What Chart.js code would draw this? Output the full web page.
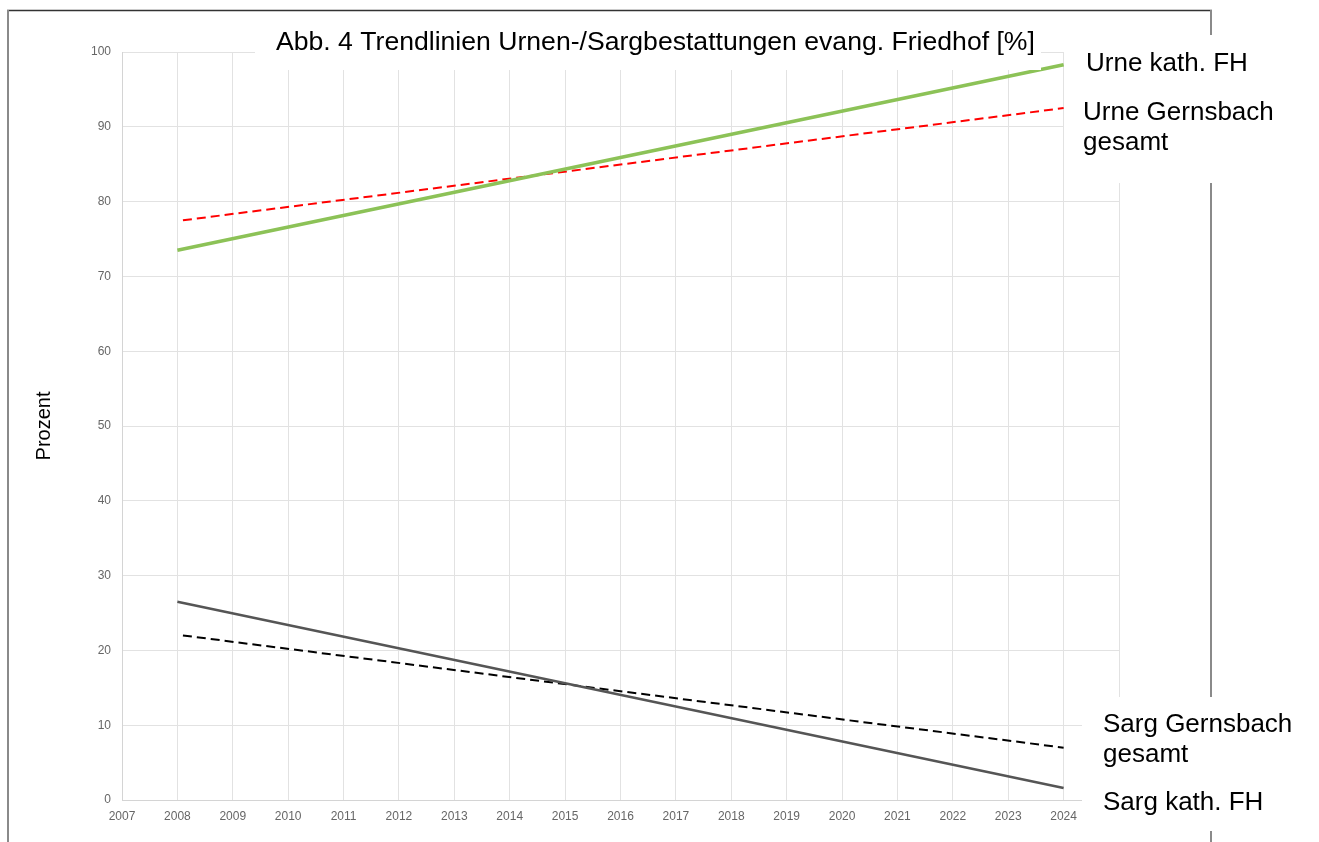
<!DOCTYPE html>
<html>
<head>
<meta charset="utf-8">
<title>Trendlinien Urnen-/Sargbestattungen</title>
<script src="https://cdn.jsdelivr.net/npm/chart.js@4.4.1/dist/chart.umd.min.js"></script>
<style>
  html, body { margin: 0; padding: 0; background: #fff; }
  #chart { display: block; }
</style>
</head>
<body>
<canvas id="chart" width="1319" height="842"></canvas>
<script>
// trend line end points
const kathYears = [2008, 2024];
const gesamtYears = [2008.1, 2024];
const urneKath = [73.5, 98.3];
const urneGesamt = [77.5, 92.5];
const sargKath = [26.5, 1.6];
const sargGesamt = [22.0, 7.0];

const titleText = "Abb. 4 Trendlinien Urnen-/Sargbestattungen evang. Friedhof [%]";
const yTitle = "Prozent";
const FONT = "'Liberation Sans', Arial, sans-serif";

const toPoints = (xs, ys) => xs.map((x, i) => ({ x: x, y: ys[i] }));

// frame, white label boxes and texts, like the pasted-together original
const overlay = {
    id: "overlay",
    afterDraw(chart) {
        const ctx = chart.ctx;
        ctx.save();
        // frame
        ctx.strokeStyle = "#333";
        ctx.lineWidth = 1.5;
        ctx.beginPath();
        ctx.moveTo(7, 10.5);
        ctx.lineTo(1212, 10.5);
        ctx.stroke();
        ctx.strokeStyle = "#8a8a8a";
        ctx.lineWidth = 2;
        ctx.beginPath();
        ctx.moveTo(8, 10);
        ctx.lineTo(8, 842);
        ctx.moveTo(1211, 10);
        ctx.lineTo(1211, 842);
        ctx.stroke();

        // white boxes
        ctx.fillStyle = "#fff";
        ctx.fillRect(255, 14, 786, 56);     // title
        ctx.fillRect(1064, 35, 255, 148);   // Urne labels
        ctx.fillRect(1082, 697, 237, 134);  // Sarg labels

        ctx.fillStyle = "#000";
        ctx.textBaseline = "alphabetic";
        ctx.textAlign = "left";
        ctx.font = "26.6px " + FONT;
        ctx.fillText(titleText, 276, 50);
        ctx.font = "26px " + FONT;
        ctx.fillText("Urne kath. FH", 1086, 71);
        ctx.fillText("Urne Gernsbach", 1083, 120);
        ctx.fillText("gesamt", 1083, 150);
        ctx.fillText("Sarg Gernsbach", 1103, 732);
        ctx.fillText("gesamt", 1103, 762);
        ctx.fillText("Sarg kath. FH", 1103, 810);
        ctx.restore();
    }
};

const ctx = document.getElementById("chart").getContext("2d");
const myChart = new Chart(ctx, {
    type: "scatter",
    data: {
        datasets: [
            {
                label: "Urne kath. FH",
                data: toPoints(kathYears, urneKath),
                showLine: true,
                borderColor: "#8cc257",
                borderWidth: 3.5,
                pointRadius: 0
            },
            {
                label: "Urne Gernsbach gesamt",
                data: toPoints(gesamtYears, urneGesamt),
                showLine: true,
                borderColor: "#ff0000",
                borderWidth: 2,
                borderDash: [9, 5],
                pointRadius: 0
            },
            {
                label: "Sarg kath. FH",
                data: toPoints(kathYears, sargKath),
                showLine: true,
                borderColor: "#555555",
                borderWidth: 2.5,
                pointRadius: 0
            },
            {
                label: "Sarg Gernsbach gesamt",
                data: toPoints(gesamtYears, sargGesamt),
                showLine: true,
                borderColor: "#000000",
                borderWidth: 2,
                borderDash: [9, 5],
                pointRadius: 0
            }
        ]
    },
    options: {
        responsive: false,
        animation: false,
        layout: { padding: { top: 52, right: 200, bottom: 0, left: 0 } },
        plugins: {
            legend: { display: false },
            title: { display: false },
            tooltip: { enabled: false }
        },
        scales: {
            x: {
                type: "linear",
                min: 2007,
                max: 2025,
                afterFit: (scale) => { scale.height = 42; },
                grid: { color: "#e2e2e2", drawTicks: false },
                border: { color: "#d4d4d4" },
                ticks: {
                    stepSize: 1,
                    padding: 9,
                    color: "#666",
                    font: { family: FONT, size: 12 },
                    callback: (v) => String(v)
                }
            },
            y: {
                min: 0,
                max: 100,
                afterFit: (scale) => { scale.width = 122; },
                grid: { color: "#e2e2e2", drawTicks: false },
                border: { color: "#d4d4d4" },
                ticks: {
                    stepSize: 10,
                    padding: 11,
                    color: "#666",
                    font: { family: FONT, size: 12 }
                },
                title: {
                    display: true,
                    text: yTitle,
                    color: "#000",
                    font: { family: FONT, size: 20 },
                    padding: { top: 32, bottom: 0 }
                }
            }
        }
    },
    plugins: [overlay]
});
</script>
</body>
</html>
